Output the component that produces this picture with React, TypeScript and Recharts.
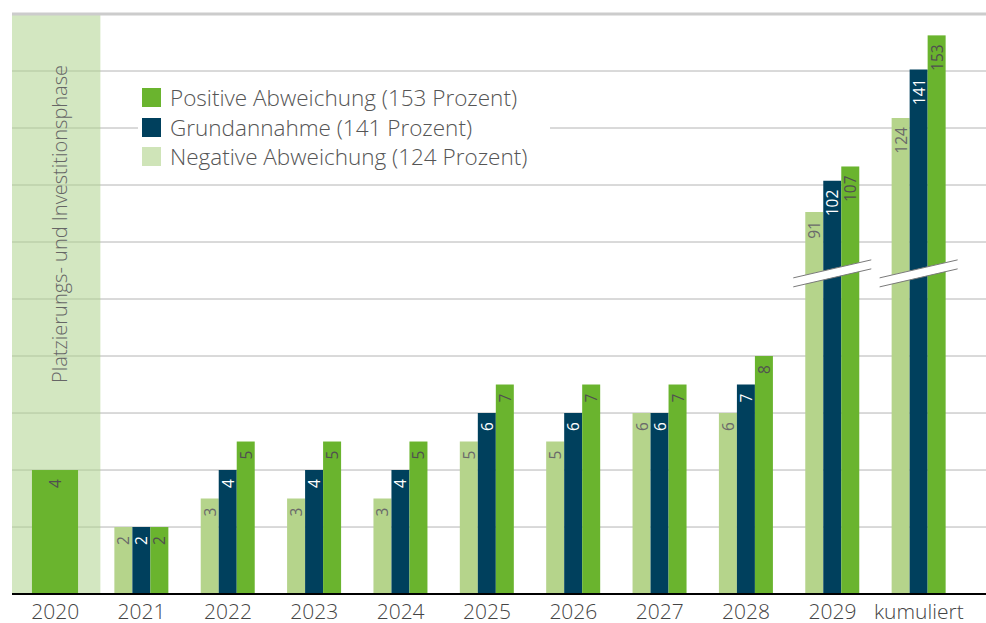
import React from 'react';
import { BarChart, Bar, XAxis, YAxis, CartesianGrid, ReferenceArea, ReferenceLine, LabelList, Legend } from 'recharts';

// ---- data ----
const categories = ['2020', '2021', '2022', '2023', '2024', '2025', '2026', '2027', '2028', '2029', 'kumuliert'];
const negativeValues: (number | null)[] = [null, 2, 3, 3, 3, 5, 5, 6, 6, 91, 124];
const baseValues: (number | null)[] = [null, 2, 4, 4, 4, 6, 6, 6, 7, 102, 141];
const positiveValues: (number | null)[] = [null, 2, 5, 5, 5, 7, 7, 7, 8, 107, 153];
const phaseValues: (number | null)[] = [4, null, null, null, null, null, null, null, null, null, null];

const negativeName = 'Negative Abweichung (124 Prozent)';
const baseName = 'Grundannahme (141 Prozent)';
const positiveName = 'Positive Abweichung (153 Prozent)';
const legendOrder = [positiveName, baseName, negativeName];
const phaseText = 'Platzierungs- und Investitionsphase';
const phaseCategory = '2020';
const brokenCategories = ['2029', 'kumuliert'];
const gridValues = [2, 4, 6, 8, 10, 12, 14, 16, 18];
const topValue = 20;

// ---- broken-axis transform (small values linear, large values compressed) ----
const SMALL_OFFSET = 0.35;
const BREAK_LIMIT = 50;
const toAxis = (v: number | null) =>
  v == null ? null : v < BREAK_LIMIT ? v + SMALL_OFFSET : 4.3 + 0.1 * v;
const AXIS_MAX = topValue + SMALL_OFFSET;
const gridTicks = gridValues.map((v) => v + SMALL_OFFSET);
const BREAK_AT = 11.25;

const data = categories.map((c, i) => ({
  category: c,
  negative: toAxis(negativeValues[i]),
  base: toAxis(baseValues[i]),
  phase: toAxis(phaseValues[i]),
  positive: toAxis(positiveValues[i]),
  negativeLabel: negativeValues[i],
  baseLabel: baseValues[i],
  phaseLabel: phaseValues[i],
  positiveLabel: positiveValues[i],
}));

// ---- colours ----
const C_POS = '#6ab42e';
const C_BASE = '#00405d';
const C_NEG = '#b5d48b';
const C_NEG_LEGEND = '#cfe4b8';
const C_BAND = 'rgba(175, 211, 142, 0.55)';
const FONT = '"Open Sans", "DejaVu Sans", sans-serif';

const makeLabel = (color: string) => (props: any) => {
  const { x, y, width, value } = props;
  if (value == null || value === '') return null;
  const cx = Number(x) + Number(width) / 2;
  const ty = Number(y) + 9;
  return (
    <text
      x={cx}
      y={ty}
      transform={`rotate(-90 ${cx} ${ty})`}
      textAnchor="end"
      dominantBaseline="central"
      fontSize={15.5}
      fontFamily={FONT}
      fill={color}
    >
      {value}
    </text>
  );
};

const PhaseBar = (props: any) => {
  const { x, y, width, height } = props;
  if (height == null || height <= 0) return null;
  const cx = x + width / 2;
  const w = width * 2.56;
  return <rect x={cx - w / 2} y={y} width={w} height={height} fill={C_POS} />;
};

// positive bar; for broken categories it also draws the axis-break mark across the group
const PositiveBar = (props: any) => {
  const { x, y, width, height, payload } = props;
  if (height == null || height <= 0) return null;
  const rect = <rect x={x} y={y} width={width} height={height} fill={C_POS} />;
  if (!payload || brokenCategories.indexOf(payload.category) < 0) return rect;
  const pxPerUnit = height / payload.positive;
  const bottom = y + height;
  const cy = bottom - BREAK_AT * pxPerUnit;
  const cx = x - width / 2; // group centre (positive is the right-hand slot)
  const half = 39;
  const rise = 9;
  const gap = 4.5;
  const x1 = cx - half;
  const x2 = cx + half;
  const yl = cy + rise;
  const yr = cy - rise;
  return (
    <g>
      {rect}
      <polygon
        points={`${x1},${yl - gap} ${x2},${yr - gap} ${x2},${yr + gap} ${x1},${yl + gap}`}
        fill="#fff"
      />
      <line x1={x1} y1={yl - gap} x2={x2} y2={yr - gap} stroke="#7a7a7a" strokeWidth={1} />
      <line x1={x1} y1={yl + gap} x2={x2} y2={yr + gap} stroke="#7a7a7a" strokeWidth={1} />
    </g>
  );
};

const BandShape = (props: any) => {
  const { x, y, width, height } = props;
  const tx = x + width / 2 + 4;
  const ty = y + height * 0.362;
  return (
    <g>
      <rect x={x} y={y} width={width + 2} height={height} fill={C_BAND} />
      <text
        x={tx}
        y={ty}
        transform={`rotate(-90 ${tx} ${ty})`}
        textAnchor="middle"
        dominantBaseline="central"
        fontSize={20}
        fontWeight={300}
        fontFamily={FONT}
        fill="#666"
      >
        {phaseText}
      </text>
    </g>
  );
};

const renderLegend = (props: any) => {
  const payload = (props.payload || []).filter((p: any) => legendOrder.indexOf(p.value) >= 0);
  const items = payload.slice().sort((a: any, b: any) => legendOrder.indexOf(a.value) - legendOrder.indexOf(b.value));
  return (
    <div style={{ background: '#fff', paddingTop: 3, width: 412, height: 96, boxSizing: 'border-box' }}>
      {items.map((p: any) => (
        <div key={p.value} style={{ display: 'flex', alignItems: 'center', height: 29.5, paddingLeft: 4 }}>
          <span
            style={{
              display: 'inline-block',
              width: 19,
              height: 19,
              background: p.value === negativeName ? C_NEG_LEGEND : p.color,
              marginRight: 9,
            }}
          />
          <span
            style={{
              fontFamily: FONT,
              fontSize: 22.5,
              fontWeight: 300,
              color: '#555',
              lineHeight: '29.5px',
              whiteSpace: 'nowrap',
            }}
          >
            {p.value}
          </span>
        </div>
      ))}
    </div>
  );
};

export default function App() {
  return (
    <div style={{ position: 'absolute', left: 0, top: 0, width: 986, height: 623, background: '#fff' }}>
      <BarChart
        width={986}
        height={623}
        data={data}
        margin={{ top: 14, right: 0, bottom: 0, left: 12 }}
        barGap={0}
      >
        <CartesianGrid vertical={false} stroke="#b4b4b4" strokeWidth={1} />
        <ReferenceArea
          x1={phaseCategory}
          x2={phaseCategory}
          y1={0}
          y2={AXIS_MAX}
          shape={BandShape}
          ifOverflow="visible"
        />
        <ReferenceLine y={AXIS_MAX} stroke="#cccccc" strokeWidth={3} ifOverflow="visible" />
        <XAxis
          dataKey="category"
          height={29}
          padding={{ left: 0, right: 24 }}
          tickLine={false}
          tickSize={6}
          tickMargin={4}
          axisLine={{ stroke: '#000', strokeWidth: 2 }}
          tick={{ fontSize: 21, fill: '#444', fontFamily: FONT, fontWeight: 300 }}
          interval={0}
        />
        <YAxis hide type="number" domain={[0, AXIS_MAX]} ticks={gridTicks} allowDataOverflow />
        <Legend
          content={renderLegend}
          layout="horizontal"
          align="center"
          verticalAlign="middle"
          wrapperStyle={{ position: 'absolute', left: 138, top: 80, width: 412, height: 96 }}
        />
        <Bar dataKey="negative" name={negativeName} stackId="neg" fill={C_NEG} barSize={18} isAnimationActive={false}>
          <LabelList dataKey="negativeLabel" content={makeLabel('#6a6a6a')} />
        </Bar>
        <Bar dataKey="base" name={baseName} stackId="mid" fill={C_BASE} barSize={18} isAnimationActive={false}>
          <LabelList dataKey="baseLabel" content={makeLabel('#ffffff')} />
        </Bar>
        <Bar
          dataKey="phase"
          name="phase"
          stackId="mid"
          fill={C_POS}
          barSize={18}
          legendType="none"
          shape={PhaseBar}
          isAnimationActive={false}
        >
          <LabelList dataKey="phaseLabel" content={makeLabel('#505050')} />
        </Bar>
        <Bar
          dataKey="positive"
          name={positiveName}
          stackId="pos"
          fill={C_POS}
          barSize={18}
          shape={PositiveBar}
          isAnimationActive={false}
        >
          <LabelList dataKey="positiveLabel" content={makeLabel('#505050')} />
        </Bar>
      </BarChart>
    </div>
  );
}
